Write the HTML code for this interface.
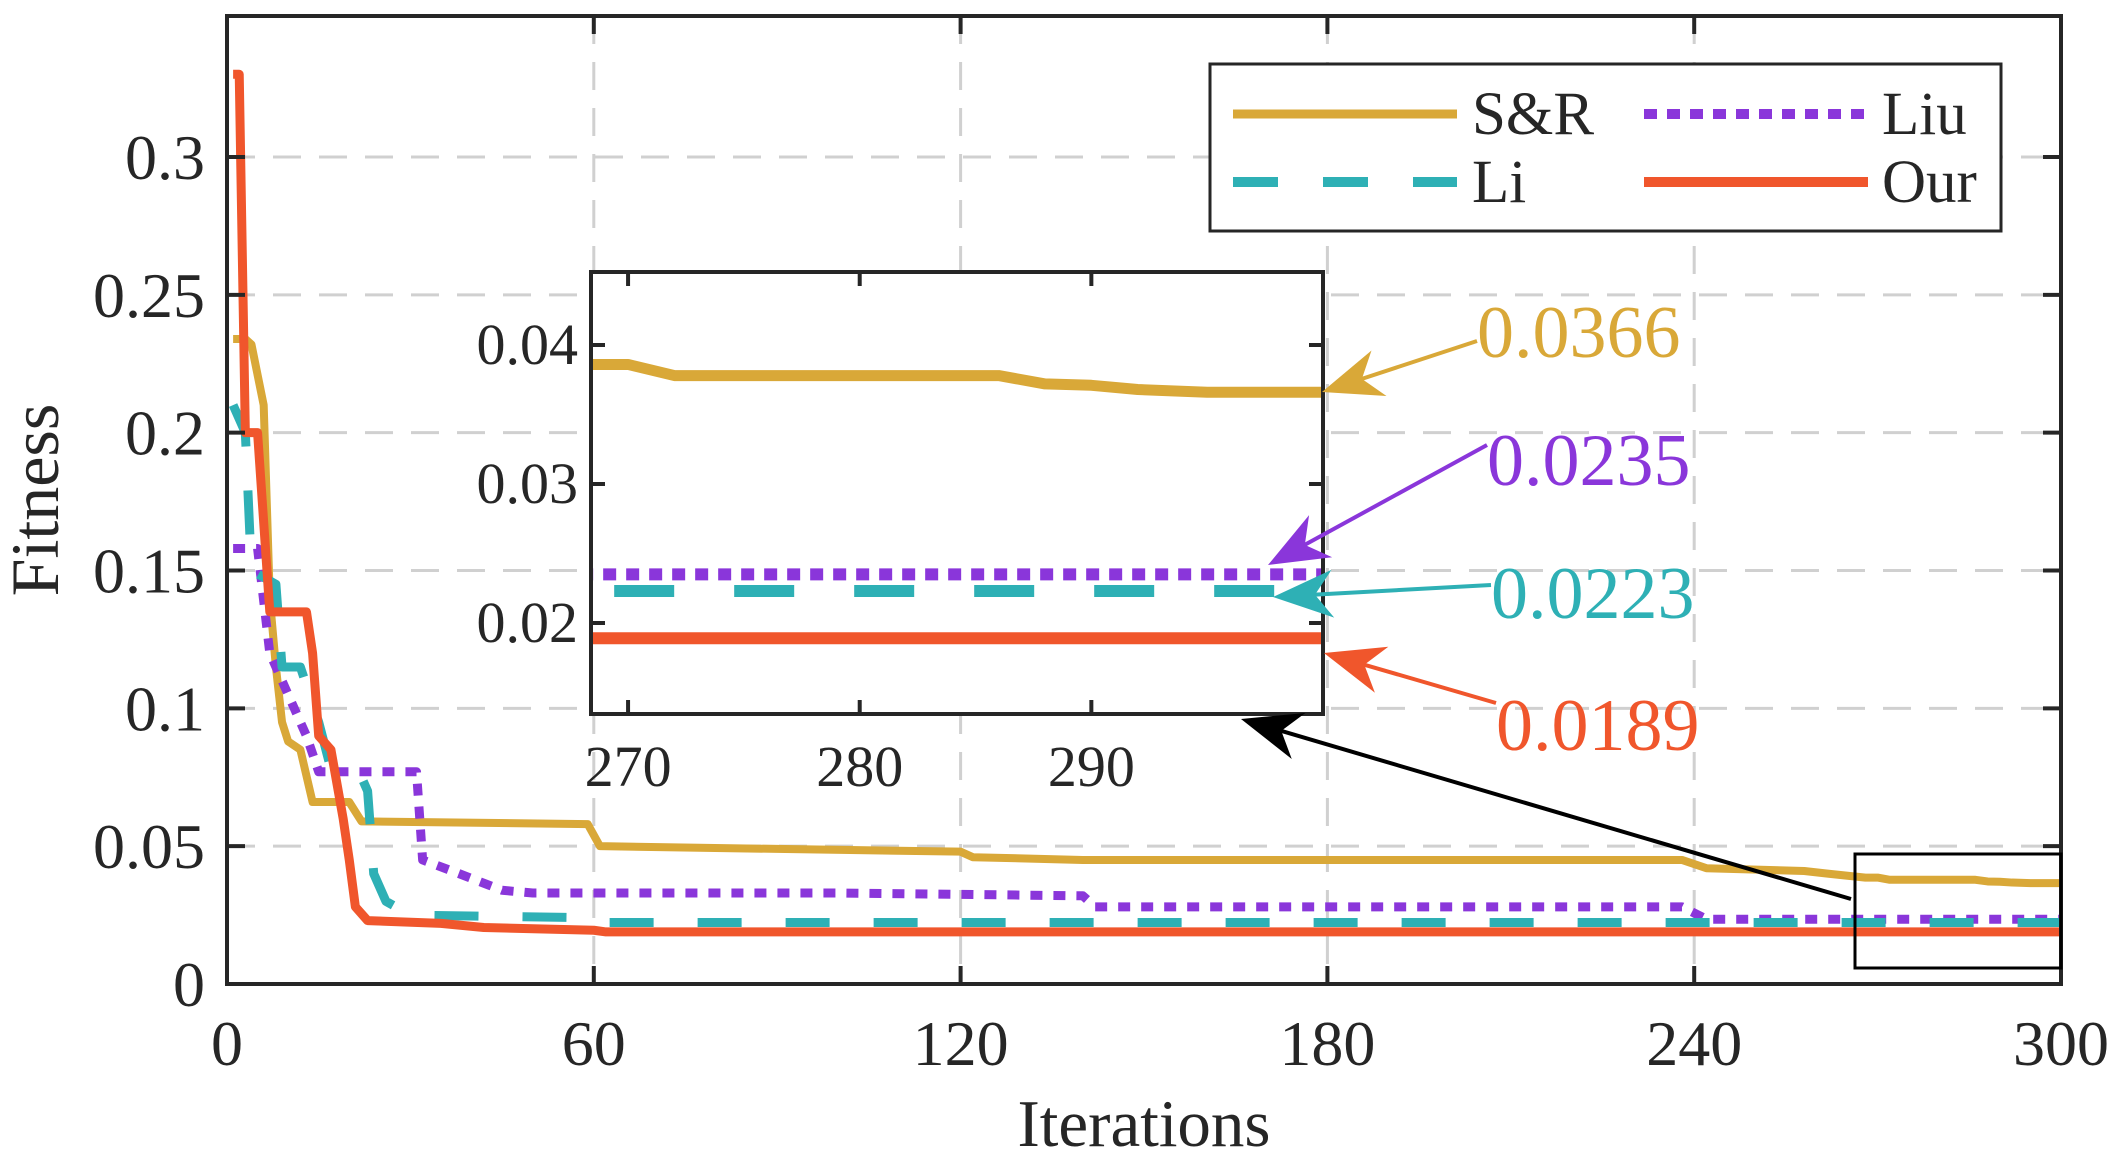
<!DOCTYPE html>
<html><head><meta charset="utf-8"><style>
body{margin:0;background:#fff}
svg{display:block;font-family:"Liberation Serif",serif}
</style></head><body>
<svg id="chart" width="2119" height="1157" viewBox="0 0 2119 1157" xmlns="http://www.w3.org/2000/svg">
<defs>
<clipPath id="mainClip"><rect x="227" y="16" width="1834" height="968"/></clipPath>
<clipPath id="insetClip"><rect x="591" y="272" width="732" height="442"/></clipPath>
</defs>
<g id="grid"></g>
<g id="mainSeries" clip-path="url(#mainClip)"></g>
<rect x="227" y="16" width="1834" height="968" fill="none" stroke="#262626" stroke-width="4"/>
<g id="axes"></g>
<rect x="1855" y="854" width="206" height="114" fill="none" stroke="#000" stroke-width="3"/>
<rect x="591" y="272" width="732" height="442" fill="#fff" stroke="none"/>
<g id="insetSeries" clip-path="url(#insetClip)"></g>
<rect x="591" y="272" width="732" height="442" fill="none" stroke="#262626" stroke-width="4"/>
<g id="insetAxes"></g>
<g id="annot"></g>
<g>
<rect x="1210" y="64" width="791" height="167" fill="#fff" stroke="#262626" stroke-width="3"/>
<line x1="1233" y1="114" x2="1457" y2="114" stroke="#d9a838" stroke-width="9"/>
<text x="1472" y="134" font-size="61" fill="#262626">S&amp;R</text>
<line x1="1644" y1="114" x2="1868" y2="114" stroke="#8a36da" stroke-width="10" stroke-dasharray="13,10"/>
<text x="1882" y="134" font-size="61" fill="#262626">Liu</text>
<line x1="1233" y1="182" x2="1457" y2="182" stroke="#2eb0b5" stroke-width="10" stroke-dasharray="45,45"/>
<text x="1472" y="202" font-size="61" fill="#262626">Li</text>
<line x1="1644" y1="182" x2="1868" y2="182" stroke="#f0562c" stroke-width="10"/>
<text x="1882" y="202" font-size="61" fill="#262626">Our</text>
</g>
<text x="1144" y="1146" font-size="67" text-anchor="middle" fill="#262626">Iterations</text>
<text transform="translate(58,500) rotate(-90)" font-size="68" text-anchor="middle" fill="#262626">Fitness</text>
</svg>
<script>
const xTicks=[0,60,120,180,240,300];
const yTicks=[0,0.05,0.1,0.15,0.2,0.25,0.3];
const yTickLabels=["0","0.05","0.1","0.15","0.2","0.25","0.3"];
const insetXTicks=[270,280,290];
const insetYTicks=[0.02,0.03,0.04];
const insetYTickLabels=["0.02","0.03","0.04"];
const srIter=[1,3,4,6,7,8,9,10,12,14,20,22,59,61,90,120,122,140,238,242,258,262,268,270,272,286,288,290,292,295,300];
const srVal=[0.234,0.234,0.232,0.21,0.14,0.115,0.095,0.088,0.085,0.066,0.066,0.059,0.058,0.050,0.049,0.048,0.046,0.045,0.045,0.042,0.041,0.040,0.0386,0.0386,0.0378,0.0378,0.0372,0.0371,0.0368,0.0366,0.0366];
const ourIter=[1,2,3,5,7,13,14,15,17,19,20,21,23,35,42,60,62,300];
const ourVal=[0.33,0.33,0.2,0.2,0.135,0.135,0.12,0.09,0.085,0.06,0.045,0.028,0.023,0.022,0.0205,0.0195,0.0189,0.0189];
const liIter=[1,3,4,8,9,12,15,17,22,23,24,26,30,60,62,300];
const liVal=[0.21,0.2,0.15,0.145,0.115,0.115,0.095,0.078,0.075,0.07,0.04,0.03,0.025,0.024,0.0223,0.0223];
const liuIter=[1,5,7,13,15,31,32,38,45,50,100,140,142,238,242,300];
const liuVal=[0.158,0.158,0.12,0.09,0.077,0.077,0.045,0.04,0.034,0.033,0.033,0.032,0.028,0.028,0.0235,0.0235];
const finalLabels=["0.0366","0.0235","0.0223","0.0189"];

const NS="http://www.w3.org/2000/svg";
function mk(tag,attrs,parent,text){const e=document.createElementNS(NS,tag);for(const k in attrs)e.setAttribute(k,attrs[k]);if(text!==undefined)e.textContent=text;parent.appendChild(e);return e;}
const X=v=>227+(v-0)/300*1834;
const Y=v=>984-v/0.3*827;
const IX=v=>591+(v-268.4)/(300-268.4)*732;
const IY=v=>623-(v-0.02)/0.01*139;

const grid=document.getElementById('grid');
xTicks.slice(1,-1).forEach(t=>{const l=mk('line',{x1:X(t),x2:X(t),y1:16,y2:984,stroke:'#d0d0d0','stroke-width':3,'stroke-dasharray':'28,18'},grid);

});
yTicks.slice(1).forEach(t=>{const l=mk('line',{x1:227,x2:2061,y1:Y(t),y2:Y(t),stroke:'#d0d0d0','stroke-width':3,'stroke-dasharray':'28,18'},grid);

});

const axes=document.getElementById('axes');
xTicks.forEach(t=>{mk('line',{x1:X(t),x2:X(t),y1:984,y2:966,stroke:'#262626','stroke-width':4},axes);mk('line',{x1:X(t),x2:X(t),y1:16,y2:34,stroke:'#262626','stroke-width':4},axes);
const tx=mk('text',{x:X(t),y:1065,'font-size':64,'text-anchor':'middle',fill:'#262626'},axes,String(t));

});
yTicks.forEach((t,i)=>{mk('line',{x1:227,x2:245,y1:Y(t),y2:Y(t),stroke:'#262626','stroke-width':4},axes);mk('line',{x1:2043,x2:2061,y1:Y(t),y2:Y(t),stroke:'#262626','stroke-width':4},axes);
const tx=mk('text',{x:205,y:Y(t)+22,'font-size':64,'text-anchor':'end',fill:'#262626'},axes,yTickLabels[i]);

});

function linePath(xs,ys,fx,fy){let d='M'+fx(xs[0])+','+fy(ys[0]);for(let i=1;i<xs.length;i++){d+=' L'+fx(xs[i])+','+fy(ys[i]);}return d;}
const series=[
 {n:'sr',x:srIter,y:srVal,c:'#d9a838',dash:null,w:8},
 {n:'liu',x:liuIter,y:liuVal,c:'#8a36da',dash:'12,11',w:9,id:'13,10'},
 {n:'li',x:liIter,y:liVal,c:'#2eb0b5',dash:'44,44',w:9,id:'60,60'},
 {n:'our',x:ourIter,y:ourVal,c:'#f0562c',dash:null,w:9}];
const ms=document.getElementById('mainSeries'),is=document.getElementById('insetSeries');
series.forEach(s=>{
 const p=mk('path',{d:linePath(s.x,s.y,X,Y),fill:'none',stroke:s.c,'stroke-width':s.w,'stroke-linejoin':'round'},ms);
 if(s.dash)p.setAttribute('stroke-dasharray',s.dash);
 
 
 const q=mk('path',{d:linePath(s.x,s.y,IX,IY),fill:'none',stroke:s.c,'stroke-width':s.w+3,'stroke-linejoin':'round'},is);
 if(s.dash)q.setAttribute('stroke-dasharray',s.id);
 
 
});

const ia=document.getElementById('insetAxes');
insetXTicks.forEach(t=>{mk('line',{x1:IX(t),x2:IX(t),y1:714,y2:700,stroke:'#262626','stroke-width':4},ia);mk('line',{x1:IX(t),x2:IX(t),y1:272,y2:286,stroke:'#262626','stroke-width':4},ia);
const tx=mk('text',{x:IX(t),y:786,'font-size':58,'text-anchor':'middle',fill:'#262626'},ia,String(t));

});
insetYTicks.forEach((t,i)=>{mk('line',{x1:591,x2:605,y1:IY(t),y2:IY(t),stroke:'#262626','stroke-width':4},ia);mk('line',{x1:1309,x2:1323,y1:IY(t),y2:IY(t),stroke:'#262626','stroke-width':4},ia);
const tx=mk('text',{x:578,y:IY(t)+19,'font-size':58,'text-anchor':'end',fill:'#262626'},ia,insetYTickLabels[i]);

});

const an=document.getElementById('annot');
const ann=[
 {c:'#d9a838',tx:1477,ty:357,x1:1477,y1:341,x2:1322,y2:392},
 {c:'#8a36da',tx:1487,ty:485,x1:1487,y1:445,x2:1268,y2:565},
 {c:'#2eb0b5',tx:1491,ty:618,x1:1491,y1:585,x2:1273,y2:597},
 {c:'#f0562c',tx:1496,ty:750,x1:1496,y1:703,x2:1324,y2:653},
 {c:'#000',x1:1851,y1:899,x2:1241,y2:719}];
function arrow(a){
 const dx=a.x2-a.x1,dy=a.y2-a.y1,L=Math.hypot(dx,dy),ux=dx/L,uy=dy/L;
 const bx=a.x2-ux*60,by=a.y2-uy*60,px=-uy,py=ux;
 mk('line',{x1:a.x1,y1:a.y1,x2:bx+ux*20,y2:by+uy*20,stroke:a.c,'stroke-width':4},an);
 const h=mk('polygon',{points:`${a.x2},${a.y2} ${bx+px*24},${by+py*24} ${bx+ux*18},${by+uy*18} ${bx-px*24},${by-py*24}`,fill:a.c},an);
 
 
}
ann.forEach((a,i)=>{arrow(a);if(a.tx){const t=mk('text',{x:a.tx,y:a.ty,'font-size':74,fill:a.c},an,finalLabels[i]);

}});
</script>
</body></html>
